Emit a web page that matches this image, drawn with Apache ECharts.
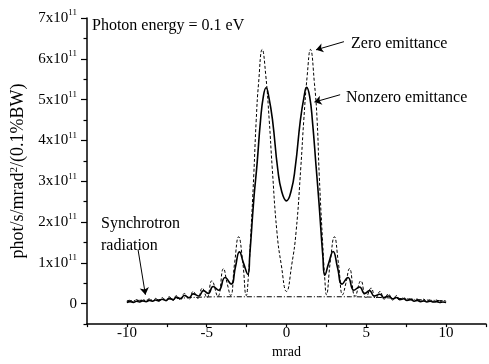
<!DOCTYPE html>
<html>
<head>
<meta charset="utf-8">
<script src="https://cdn.jsdelivr.net/npm/echarts@6/dist/echarts.min.js"></script>
<style>
  html, body { margin: 0; padding: 0; background: #fff; }
  #chart { width: 489px; height: 364px; }
</style>
</head>
<body>
<div id="chart"></div>
<script>
// angle in mrad, flux in units of 1e11 phot/s/mrad^2/(0.1%BW)
const nonzeroAngle = [-10, -9.8, -9.6, -9.4, -9.2, -9, -8.8, -8.6, -8.4, -8.2, -8, -7.8, -7.55, -7.35, -7.1, -6.9,
  -6.65, -6.4, -6.1, -5.85, -5.5, -5.2, -4.9, -4.6, -4.25, -3.85, -3.47, -3.2, -2.95, -2.7, -2.42, -2.3, -2.05,
  -1.85, -1.63, -1.45, -1.28, -1.1, -0.87, -0.55, -0.3, 0, 0.3, 0.55, 0.87, 1.1, 1.26, 1.45, 1.63, 1.85, 2.03,
  2.28, 2.4, 2.65, 2.92, 3.2, 3.48, 3.85, 4.22, 4.58, 4.9, 5.2, 5.5, 5.85, 6.1, 6.4, 6.65, 6.9, 7.1, 7.35,
  7.55, 7.8, 8, 8.2, 8.4, 8.6, 8.8, 9, 9.2, 9.4, 9.6, 9.8, 10];
const nonzeroFlux = [0.03, 0.05, 0.03, 0.06, 0.04, 0.07, 0.05, 0.08, 0.06, 0.09, 0.07, 0.11, 0.08, 0.13, 0.10, 0.16,
  0.12, 0.20, 0.15, 0.24, 0.19, 0.32, 0.25, 0.42, 0.33, 0.64, 0.48, 0.90, 1.27, 1.00, 0.72, 1.20, 2.55,
  3.40, 4.48, 5.08, 5.29, 5.05, 4.48, 3.30, 2.75, 2.52, 2.78, 3.35, 4.50, 5.07, 5.30, 5.08, 4.45, 3.38, 2.50,
  1.15, 0.70, 1.00, 1.28, 0.88, 0.48, 0.64, 0.33, 0.41, 0.25, 0.32, 0.19, 0.23, 0.15, 0.19, 0.12, 0.15, 0.10, 0.12,
  0.08, 0.10, 0.06, 0.08, 0.05, 0.07, 0.04, 0.06, 0.04, 0.05, 0.03, 0.04, 0.03];

const zeroAngle = [-10, -9.8, -9.6, -9.4, -9.2, -9, -8.8, -8.6, -8.4, -8.2, -8, -7.8, -7.55, -7.35, -7.1, -6.9,
  -6.65, -6.4, -6.1, -5.85, -5.55, -5.28, -4.98, -4.68, -4.3, -3.95, -3.72, -3.5, -3.25, -3, -2.75, -2.52,
  -2.4, -2.25, -2.05, -1.9, -1.75, -1.52, -1.3, -1.08, -0.9, -0.6, -0.33, 0, 0.33, 0.6, 0.9, 1.08, 1.3,
  1.5, 1.75, 1.92, 2.05, 2.25, 2.4, 2.5, 2.75, 3, 3.25, 3.52, 3.72, 3.95, 4.3, 4.66, 4.98, 5.3, 5.58, 5.86,
  6.12, 6.38, 6.65, 6.9, 7.1, 7.35, 7.55, 7.8, 8, 8.2, 8.4, 8.6, 8.8, 9, 9.2, 9.4, 9.6, 9.8, 10];
const zeroFlux = [0.05, 0.09, 0.04, 0.10, 0.05, 0.11, 0.05, 0.12, 0.06, 0.13, 0.06, 0.15, 0.07, 0.17, 0.08, 0.20,
  0.09, 0.25, 0.11, 0.30, 0.13, 0.38, 0.15, 0.56, 0.18, 0.86, 0.50, 0.20, 1.00, 1.64, 1.05, 0.20,
  0.60, 1.60, 3.16, 4.48, 5.40, 6.23, 5.60, 4.48, 3.36, 1.76, 0.96, 0.30, 0.96, 1.76, 3.36, 4.48, 5.60,
  6.23, 5.40, 4.48, 3.16, 1.60, 0.60, 0.22, 1.05, 1.64, 1.00, 0.22, 0.50, 0.86, 0.18, 0.56, 0.15, 0.38, 0.13, 0.30,
  0.11, 0.24, 0.09, 0.20, 0.08, 0.16, 0.07, 0.14, 0.06, 0.12, 0.06, 0.11, 0.05, 0.10, 0.05, 0.09, 0.04, 0.08, 0.06];

const synchAngle = [-10, -9, -8, -7, -6, -5, -4, -2, 0, 2, 4, 5, 6, 7, 8, 9, 10];
const synchFlux = [0.07, 0.085, 0.10, 0.125, 0.15, 0.165, 0.17, 0.17, 0.17, 0.17, 0.17, 0.165, 0.15, 0.13, 0.105, 0.085, 0.07];

const yLabelValues = [0, 1, 2, 3, 4, 5, 6, 7];
const yMinorValues = [-0.5, 0.5, 1.5, 2.5, 3.5, 4.5, 5.5, 6.5];

const FONT = '"Liberation Serif", "Times New Roman", serif';
const zip = (xs, ys) => xs.map((x, i) => [x, ys[i]]);

const chart = echarts.init(document.getElementById('chart'), null, { renderer: 'canvas' });

const axisLine = { onZero: false, lineStyle: { color: '#000', width: 1.5 } };

chart.setOption({
  animation: false,
  backgroundColor: '#fff',
  grid: { left: 87, top: 18, width: 404, height: 313, containLabel: false },
  xAxis: {
    type: 'value',
    min: -12.5, max: 12.5, interval: 2.5,
    name: 'mrad', nameLocation: 'middle', nameGap: 12,
    nameTextStyle: { color: '#000', fontFamily: FONT, fontSize: 14 },
    axisLine: axisLine,
    axisTick: { inside: false, length: 3, lineStyle: { color: '#000', width: 1.2 } },
    axisLabel: {
      margin: 1, color: '#000', fontFamily: FONT, fontSize: 15,
      formatter: (v) => (v % 5 === 0 && Math.abs(v) <= 10 ? String(v) : '')
    },
    splitLine: { show: false }
  },
  yAxis: [
    {
      type: 'value',
      min: -0.5, max: 7,
      name: 'phot/s/mrad{s|2}/(0.1%BW)', nameLocation: 'middle', nameGap: 58,
      nameTextStyle: {
        color: '#000', fontFamily: FONT, fontSize: 18,
        rich: { s: { fontFamily: FONT, fontSize: 11, padding: [0, 0, 9, 0] } }
      },
      axisLine: axisLine,
      axisTick: { customValues: yLabelValues, length: 6, lineStyle: { color: '#000', width: 1.2 } },
      axisLabel: {
        customValues: yLabelValues, margin: 10, color: '#000', fontFamily: FONT, fontSize: 15,
        formatter: (v) => (v === 0 ? '0' : '{m|' + v + 'x10}{s|11}'),
        rich: {
          m: { fontFamily: FONT, fontSize: 15, color: '#000' },
          s: { fontFamily: FONT, fontSize: 9, color: '#000', padding: [0, 0, 10, 0] }
        }
      },
      splitLine: { show: false }
    },
    {
      type: 'value',
      min: -0.5, max: 7, position: 'left',
      axisLine: { show: false, onZero: false },
      axisTick: { customValues: yMinorValues, length: 3.5, lineStyle: { color: '#000', width: 1.2 } },
      axisLabel: { show: false },
      splitLine: { show: false }
    }
  ],
  series: [
    {
      name: 'Synchrotron radiation',
      type: 'line',
      data: zip(synchAngle, synchFlux),
      showSymbol: false,
      smooth: 0.3,
      lineStyle: { color: '#000', width: 1, type: [5, 2, 1, 2] },
      markLine: {
        silent: true,
        symbol: ['none', 'arrow'],
        symbolSize: 7,
        label: { show: false },
        lineStyle: { color: '#000', width: 1, type: 'solid' },
        data: [
          [{ coord: [3.6, 6.42] }, { coord: [1.85, 6.22] }],
          [{ coord: [3.36, 5.12] }, { coord: [1.75, 4.94] }],
          [{ coord: [-9.3, 1.32] }, { coord: [-8.84, 0.22] }]
        ]
      }
    },
    {
      name: 'Zero emittance',
      type: 'line',
      data: zip(zeroAngle, zeroFlux),
      showSymbol: false,
      smooth: 0.5,
      lineStyle: { color: '#000', width: 1, type: [3, 2] }
    },
    {
      name: 'Nonzero emittance',
      type: 'line',
      data: zip(nonzeroAngle, nonzeroFlux),
      showSymbol: false,
      smooth: 0.5,
      lineStyle: { color: '#000', width: 1.6 }
    }
  ],
  graphic: [
    { type: 'text', x: 92, y: 26, style: { text: 'Photon energy = 0.1 eV', fontFamily: FONT, fontSize: 16, fill: '#000', verticalAlign: 'middle' } },
    { type: 'text', x: 351, y: 44, style: { text: 'Zero emittance', fontFamily: FONT, fontSize: 16, fill: '#000', verticalAlign: 'middle' } },
    { type: 'text', x: 346, y: 98, style: { text: 'Nonzero emittance', fontFamily: FONT, fontSize: 16, fill: '#000', verticalAlign: 'middle' } },
    { type: 'text', x: 101, y: 224, style: { text: 'Synchrotron', fontFamily: FONT, fontSize: 16, fill: '#000', verticalAlign: 'middle' } },
    { type: 'text', x: 101, y: 246, style: { text: 'radiation', fontFamily: FONT, fontSize: 16, fill: '#000', verticalAlign: 'middle' } }
  ]
});
</script>
</body>
</html>
